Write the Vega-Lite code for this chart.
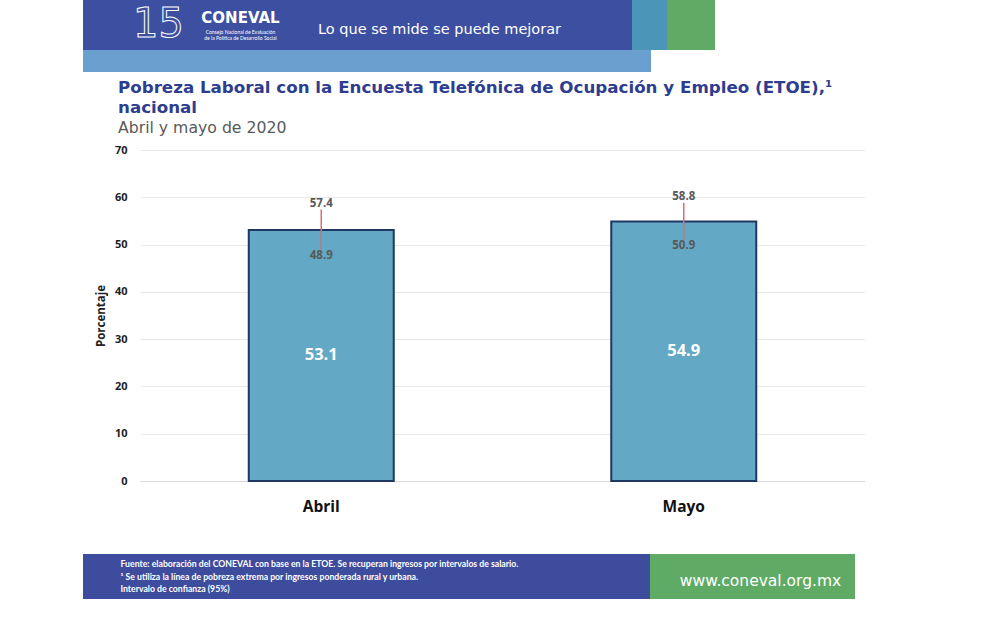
{
  "$schema": "https://vega.github.io/schema/vega-lite/v6.json",
  "background": "white",
  "padding": {"left": 83, "top": 0, "right": 0, "bottom": 0},
  "config": {
    "view": {"stroke": null},
    "font": "Open Sans"
  },
  "spacing": 39,
  "vconcat": [
    {
      "spacing": 7,
      "vconcat": [
        {
          "spacing": 0,
          "vconcat": [
            {
              "spacing": 0,
              "hconcat": [
                {
                  "width": 549,
                  "height": 50,
                  "view": {"fill": "#3d4fa1"},
                  "layer": [
                    {
                      "data": {"values": [{"t": "15"}]},
                      "mark": {"type": "text", "fontSize": 40, "fill": "#3d4fa1", "stroke": "white", "strokeWidth": 1, "dx": -199, "dy": 0, "font": "DejaVu Sans"},
                      "encoding": {"text": {"field": "t"}}
                    },
                    {
                      "data": {"values": [{"t": "CONEVAL"}]},
                      "mark": {"type": "text", "fontSize": 15, "fontWeight": 900, "color": "white", "dx": -117, "dy": -7, "font": "DejaVu Sans"},
                      "encoding": {"text": {"field": "t"}}
                    },
                    {
                      "data": {"values": [{"t": "Consejo Nacional de Evaluación"}]},
                      "mark": {"type": "text", "fontSize": 5, "color": "white", "dx": -117, "dy": 7, "font": "Lato"},
                      "encoding": {"text": {"field": "t"}}
                    },
                    {
                      "data": {"values": [{"t": "de la Política de Desarrollo Social"}]},
                      "mark": {"type": "text", "fontSize": 5, "color": "white", "dx": -117, "dy": 13, "font": "Lato"},
                      "encoding": {"text": {"field": "t"}}
                    },
                    {
                      "data": {"values": [{"t": "Lo que se mide se puede mejorar"}]},
                      "mark": {"type": "text", "fontSize": 14.5, "color": "white", "dx": 82, "dy": 5, "font": "DejaVu Sans"},
                      "encoding": {"text": {"field": "t"}}
                    }
                  ]
                },
                {
                  "width": 35,
                  "height": 50,
                  "view": {"fill": "#4b95b9"},
                  "data": {"values": []},
                  "mark": "text",
                  "encoding": {}
                },
                {
                  "width": 48,
                  "height": 50,
                  "view": {"fill": "#5fab65"},
                  "data": {"values": []},
                  "mark": "text",
                  "encoding": {}
                }
              ]
            },
            {
              "width": 568,
              "height": 22,
              "view": {"fill": "#6b9fcf"},
              "data": {"values": []},
              "mark": "text",
              "encoding": {}
            }
          ]
        },
        {
          "spacing": 0,
          "hconcat": [
            {
              "width": 12,
              "height": 1,
              "data": {"values": []},
              "mark": "text",
              "encoding": {}
            },
            {
              "width": 725,
              "height": 331,
              "title": {
                "text": ["Pobreza Laboral con la Encuesta Telefónica de Ocupación y Empleo (ETOE),¹", "nacional"],
                "subtitle": "Abril y mayo de 2020",
                "anchor": "start",
                "frame": "group",
                "dx": -22,
                "font": "DejaVu Sans",
                "fontSize": 16.7,
                "fontWeight": "bold",
                "color": "#2e3d8e",
                "lineHeight": 20,
                "subtitleFont": "DejaVu Sans",
                "subtitleFontSize": 15.7,
                "subtitleColor": "#595959",
                "subtitlePadding": 5,
                "offset": 8
              },
              "data": {
                "values": [
                  {"mes": "Abril", "valor": 53.1, "inf": 48.9, "sup": 57.4},
                  {"mes": "Mayo", "valor": 54.9, "inf": 50.9, "sup": 58.8}
                ]
              },
              "encoding": {
                "x": {
                  "field": "mes",
                  "type": "nominal",
                  "sort": null,
                  "title": null,
                  "scale": {"paddingInner": 0.6, "paddingOuter": 0.3},
                  "axis": {
                    "labelAngle": 0,
                    "labelFontSize": 15.5,
                    "labelFontWeight": "bold",
                    "labelColor": "#111111",
                    "labelPadding": 18,
                    "ticks": false,
                    "domainColor": "#d9d9d9",
                    "domainWidth": 1.2
                  }
                }
              },
              "layer": [
                {
                  "mark": {"type": "bar", "fill": "#63a8c5", "stroke": "#1f3763", "strokeWidth": 2},
                  "encoding": {
                    "y": {
                      "field": "valor",
                      "type": "quantitative",
                      "scale": {"domain": [0, 70], "nice": false},
                      "axis": {
                        "title": "Porcentaje",
                        "titleFontSize": 11.5,
                        "titleFontWeight": "bold",
                        "titleColor": "#222222",
                        "titlePadding": 8,
                        "values": [0, 10, 20, 30, 40, 50, 60, 70],
                        "labelFontSize": 11,
                        "labelFontWeight": "bold",
                        "labelColor": "#222222",
                        "labelPadding": 13,
                        "ticks": false,
                        "domain": false,
                        "gridColor": "#e8e8e8"
                      }
                    }
                  }
                },
                {
                  "mark": {"type": "rule", "color": "#e06c6c", "strokeWidth": 1.5},
                  "encoding": {
                    "y": {"field": "inf", "type": "quantitative"},
                    "y2": {"field": "sup"}
                  }
                },
                {
                  "mark": {"type": "text", "baseline": "bottom", "dy": -1, "fontSize": 11.5, "fontWeight": "bold", "color": "#595959"},
                  "encoding": {
                    "y": {"field": "sup", "type": "quantitative"},
                    "text": {"field": "sup", "type": "quantitative", "format": ".1f"}
                  }
                },
                {
                  "mark": {"type": "text", "baseline": "top", "dy": 0, "fontSize": 11.5, "fontWeight": "bold", "color": "#595959"},
                  "encoding": {
                    "y": {"field": "inf", "type": "quantitative"},
                    "text": {"field": "inf", "type": "quantitative", "format": ".1f"}
                  }
                },
                {
                  "transform": [{"calculate": "datum.valor / 2", "as": "mitad"}],
                  "mark": {"type": "text", "fontSize": 16.5, "fontWeight": "bold", "color": "white"},
                  "encoding": {
                    "y": {"field": "mitad", "type": "quantitative"},
                    "text": {"field": "valor", "type": "quantitative", "format": ".1f"}
                  }
                }
              ]
            }
          ]
        }
      ]
    },
    {
      "spacing": 0,
      "hconcat": [
        {
          "width": 567,
          "height": 45,
          "view": {"fill": "#3e4c9d"},
          "data": {
            "values": [
              {"n": 1, "t": "Fuente: elaboración del CONEVAL con base en la ETOE. Se recuperan ingresos por intervalos de salario."},
              {"n": 2, "t": "¹ Se utiliza la línea de pobreza extrema por ingresos ponderada rural y urbana."},
              {"n": 3, "t": "Intervalo de confianza (95%)"}
            ]
          },
          "mark": {"type": "text", "align": "left", "dx": -246, "fontSize": 8.7, "fontWeight": "bold", "color": "white", "font": "Lato"},
          "encoding": {
            "y": {"field": "n", "type": "ordinal", "axis": null, "scale": {"type": "point", "padding": 0.8}},
            "text": {"field": "t"}
          }
        },
        {
          "width": 205,
          "height": 45,
          "view": {"fill": "#5fab65"},
          "data": {"values": [{"t": "www.coneval.org.mx"}]},
          "mark": {"type": "text", "fontSize": 15.5, "color": "white", "dx": 8, "dy": 4, "font": "DejaVu Sans"},
          "encoding": {"text": {"field": "t"}}
        }
      ]
    }
  ]
}
